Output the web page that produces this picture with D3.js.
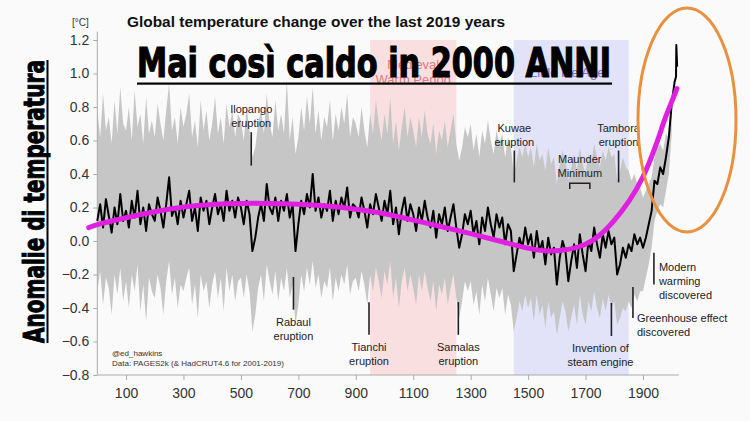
<!DOCTYPE html>
<html><head><meta charset="utf-8">
<script src="https://cdn.jsdelivr.net/npm/d3@7"></script>
<style>
body{margin:0;background:#fafafa;}
svg{display:block;font-family:"Liberation Sans",Arial,Helvetica,sans-serif;}
</style>
</head><body>
<svg id="chart" width="750" height="421"></svg>
<script>
// ---------------- DATA ----------------
const bandYears = d3.range(0, 2001, 10);
const bandUpper = [
 0.78,0.62,0.88,0.66,0.74,0.58,0.84,0.64,0.92,0.70,
 0.66,0.80,0.60,0.90,0.68,0.76,0.58,0.86,0.64,0.72,
 0.62,0.82,0.70,0.60,0.78,0.94,0.66,0.74,0.58,0.80,
 0.68,0.76,0.88,0.62,0.72,0.56,0.84,0.66,0.78,0.60,
 0.70,0.86,0.64,0.74,0.58,0.82,0.68,0.78,0.62,0.76,
 0.72,0.60,0.80,0.66,0.50,0.56,0.70,0.78,0.64,0.88,
 0.70,0.62,0.84,0.66,0.76,0.64,0.96,0.60,0.74,0.52,
 0.62,0.80,0.66,0.86,0.70,0.92,0.64,0.78,0.60,0.74,
 0.68,0.84,0.60,0.76,0.66,0.80,0.70,0.88,0.62,0.74,
 0.70,0.62,0.80,0.66,0.56,0.76,0.64,0.84,0.70,0.60,
 0.76,0.64,0.86,0.58,0.72,0.54,0.68,0.80,0.62,0.74,
 0.66,0.56,0.74,0.62,0.78,0.64,0.58,0.70,0.52,0.66,
 0.60,0.72,0.56,0.66,0.76,0.58,0.48,0.56,0.68,0.62,
 0.70,0.54,0.64,0.50,0.66,0.58,0.72,0.60,0.52,0.66,
 0.58,0.64,0.50,0.62,0.56,0.40,0.48,0.56,0.50,0.58,
 0.50,0.56,0.44,0.58,0.48,0.52,0.42,0.56,0.46,0.50,
 0.34,0.46,0.54,0.48,0.36,0.44,0.52,0.42,0.56,0.46,
 0.40,0.52,0.46,0.58,0.50,0.44,0.54,0.48,0.56,0.50,
 0.52,0.36,0.42,0.50,0.44,0.42,0.36,0.40,0.34,0.32,
 0.26,0.30,0.34,0.38,0.50,0.56,0.58,0.54,0.64,0.62,
 0.90];
const bandLower = [
 -0.30,-0.18,-0.38,-0.22,-0.28,-0.44,-0.20,-0.32,-0.16,-0.36,
 -0.24,-0.40,-0.20,-0.30,-0.14,-0.42,-0.26,-0.48,-0.22,-0.30,
 -0.34,-0.20,-0.28,-0.44,-0.24,-0.12,-0.32,-0.22,-0.40,-0.26,
 -0.30,-0.22,-0.16,-0.38,-0.26,-0.46,-0.20,-0.30,-0.24,-0.40,
 -0.26,-0.18,-0.34,-0.22,-0.42,-0.16,-0.30,-0.20,-0.36,-0.24,
 -0.22,-0.34,-0.20,-0.30,-0.54,-0.44,-0.28,-0.20,-0.36,-0.14,
 -0.24,-0.32,-0.18,-0.36,-0.22,-0.30,-0.16,-0.34,-0.26,-0.50,
 -0.38,-0.20,-0.30,-0.16,-0.26,-0.12,-0.28,-0.20,-0.34,-0.24,
 -0.28,-0.16,-0.36,-0.22,-0.30,-0.20,-0.26,-0.14,-0.32,-0.24,
 -0.22,-0.30,-0.18,-0.26,-0.38,-0.20,-0.30,-0.16,-0.24,-0.34,
 -0.18,-0.26,-0.12,-0.34,-0.22,-0.40,-0.24,-0.16,-0.30,-0.20,
 -0.28,-0.38,-0.20,-0.30,-0.18,-0.28,-0.36,-0.24,-0.42,-0.26,
 -0.32,-0.22,-0.38,-0.28,-0.20,-0.34,-0.46,-0.36,-0.24,-0.30,
 -0.24,-0.38,-0.30,-0.44,-0.26,-0.36,-0.22,-0.32,-0.42,-0.28,
 -0.34,-0.28,-0.44,-0.32,-0.38,-0.54,-0.46,-0.36,-0.42,-0.32,
 -0.40,-0.34,-0.48,-0.32,-0.44,-0.38,-0.52,-0.36,-0.46,-0.42,
 -0.56,-0.46,-0.36,-0.42,-0.54,-0.46,-0.38,-0.50,-0.32,-0.44,
 -0.50,-0.36,-0.42,-0.30,-0.40,-0.46,-0.34,-0.42,-0.32,-0.40,
 -0.36,-0.50,-0.46,-0.40,-0.42,-0.36,-0.40,-0.32,-0.36,-0.30,
 -0.30,-0.22,-0.14,-0.04,0.12,0.18,0.22,0.20,0.30,0.40,
 0.64];
const medianYears = d3.range(0, 2011, 10).concat([2015, 2016, 2019]);
const medianValues = [
 0.12,0.22,0.08,0.25,0.15,0.05,0.20,0.10,0.28,0.12,
 0.18,0.08,0.24,0.14,0.30,0.10,0.20,0.06,0.22,0.16,
 0.12,0.26,0.18,0.08,0.22,0.38,0.15,0.20,0.10,0.24,
 0.14,0.22,0.30,0.12,0.20,0.06,0.26,0.18,0.24,0.10,
 0.20,0.28,0.16,0.22,0.12,0.30,0.18,0.24,0.14,0.26,
 0.20,0.10,0.24,0.16,-0.06,0.02,0.14,0.22,0.12,0.34,
 0.20,0.16,0.26,0.12,0.24,0.18,0.28,0.14,0.22,-0.06,
 0.10,0.24,0.16,0.28,0.20,0.40,0.18,0.26,0.14,0.22,
 0.18,0.30,0.12,0.24,0.16,0.26,0.20,0.32,0.14,0.22,
 0.20,0.14,0.26,0.18,0.08,0.22,0.16,0.28,0.20,0.12,
 0.24,0.16,0.30,0.10,0.20,0.04,0.18,0.26,0.12,0.22,
 0.16,0.06,0.20,0.12,0.24,0.14,0.08,0.18,0.02,0.16,
 0.10,0.20,0.06,0.14,0.22,0.08,-0.04,0.04,0.16,0.10,
 0.18,0.04,0.12,-0.02,0.14,0.06,0.20,0.10,0.02,0.16,
 0.08,0.14,-0.02,0.10,0.06,-0.18,-0.08,0.02,-0.04,0.08,
 -0.02,0.04,-0.10,0.06,-0.06,0.00,-0.14,0.02,-0.08,-0.04,
 -0.26,-0.10,0.00,-0.06,-0.24,-0.12,-0.02,-0.16,0.04,-0.08,
 -0.18,0.00,-0.06,0.08,-0.02,-0.10,0.04,-0.04,0.06,-0.02,
 0.02,-0.20,-0.14,-0.04,-0.10,-0.02,-0.06,0.04,-0.02,0.02,
 -0.04,0.02,0.10,0.18,0.36,0.34,0.44,0.40,0.50,0.62,
 0.82,0.95,0.98,1.17,1.04];
const trendYears  = [-30, 0, 100, 200, 300, 400, 500, 600, 700, 800, 900, 1000, 1100, 1200, 1300, 1400, 1500, 1570, 1650, 1700, 1750, 1800, 1850, 1900, 1950, 1975, 2000, 2018];
const trendValues = [0.08, 0.10, 0.14, 0.175, 0.205, 0.22, 0.225, 0.225, 0.22, 0.21, 0.19, 0.165, 0.125, 0.085, 0.045, 0.0, -0.045, -0.065, -0.05, -0.025, 0.03, 0.12, 0.23, 0.37, 0.59, 0.73, 0.83, 0.91];
const yTicks = [-0.8, -0.6, -0.4, -0.2, 0.0, 0.2, 0.4, 0.6, 0.8, 1.0, 1.2];
const xTicks = [100, 300, 500, 700, 900, 1100, 1300, 1500, 1700, 1900];
const periodNames  = [["Medieval", "Warm Period"], ["Little Ice Age"]];
const periodStarts = [950, 1450];
const periodEnds   = [1250, 1850];
// events: label lines, year, line extent (°C), text placement
const eventLabels = [["Ilopango","eruption"],["Rabaul","eruption"],["Tianchi","eruption"],["Samalas","eruption"],["Kuwae","eruption"],["Tambora","eruption"],["Invention of","steam engine"],["Greenhouse effect","discovered"],["Modern","warming","discovered"]];
const eventYears  = [536, 683, 946, 1257, 1452, 1815, 1790, 1865, 1938];
const eventTop    = [0.65, -0.215, -0.365, -0.365, 0.54, 0.54, -0.37, -0.275, -0.07];
const eventBottom = [0.45, -0.41, -0.56, -0.56, 0.35, 0.35, -0.567, -0.46, -0.26];
const eventPlace  = ["above","below","below","below","above","above","below","right-low","right"];
const maunderStart = 1645, maunderEnd = 1715;

// ---------------- SETUP ----------------
const svg = d3.select("#chart");
const W = 750, H = 421;
svg.append("rect").attr("width", W).attr("height", H).attr("fill", "#fafafa");

const x = d3.scaleLinear().domain([0, 2025]).range([97.3, 678.9]);
const y = d3.scaleLinear().domain([-0.8, 1.2]).range([375, 40]);

// shaded periods
periodNames.forEach((n, i) => {
  svg.append("rect")
    .attr("x", x(periodStarts[i])).attr("y", y(1.2))
    .attr("width", x(periodEnds[i]) - x(periodStarts[i]))
    .attr("height", y(-0.8) - y(1.2))
    .attr("fill", i === 0 ? "#f9dfdf" : "#e2e2f8");
  const cx = (x(periodStarts[i]) + x(periodEnds[i])) / 2;
  const t = svg.append("text").attr("text-anchor", "middle")
    .attr("font-size", 13)
    .attr("fill", i === 0 ? "#e07a7a" : "#7070d0");
  n.forEach((line, j) => {
    t.append("tspan").attr("x", i === 0 ? cx : cx - 4)
      .attr("y", (i === 0 ? 69 : 77) + j * 15).text(line);
  });
});

// grey ensemble band
const bandData = bandYears.map((yr, i) => ({yr, lo: bandLower[i], hi: bandUpper[i]}));
svg.append("path").datum(bandData)
  .attr("fill", "#c6c6c6")
  .attr("d", d3.area().x(d => x(d.yr)).y0(d => y(d.lo)).y1(d => y(d.hi)));

// axes
const yAxis = d3.axisLeft(y).tickValues(yTicks).tickSize(4).tickFormat(d3.format(".1f"));
const gy = svg.append("g").attr("transform", `translate(${x(0)},0)`).call(yAxis);
gy.select(".domain").remove();
gy.append("line").attr("x1", 0).attr("x2", 0).attr("y1", y(1.25)).attr("y2", y(-0.8)).attr("stroke", "#aaa");
gy.selectAll(".tick line").attr("stroke", "#aaa");
gy.selectAll(".tick text").attr("font-size", 14).attr("fill", "#333").attr("x", -8)
  .attr("font-family", "'Liberation Sans',Arial,sans-serif");

const xAxis = d3.axisBottom(x).tickValues(xTicks).tickSize(5).tickFormat(d3.format("d"));
const gx = svg.append("g").attr("transform", `translate(0,${y(-0.8)})`).call(xAxis);
gx.select(".domain").attr("stroke", "#aaa").attr("d", `M${x(0)},0H${x(2025)}`);
gx.selectAll(".tick line").attr("stroke", "#aaa");
gx.selectAll(".tick text").attr("font-size", 14).attr("fill", "#333").attr("dy", "1.1em")
  .attr("font-family", "'Liberation Sans',Arial,sans-serif");

// median line
const medData = medianYears.map((yr, i) => ({yr, v: medianValues[i]}));
svg.append("path").datum(medData)
  .attr("fill", "none").attr("stroke", "#000").attr("stroke-width", 2).attr("stroke-linejoin", "round")
  .attr("d", d3.line().x(d => x(d.yr)).y(d => y(d.v)));

// event annotations
const ann = svg.append("g").attr("font-size", 11).attr("fill", "#222");
eventLabels.forEach((lines, i) => {
  const ex = x(eventYears[i]);
  const yt = y(eventTop[i]), yb = y(eventBottom[i]);
  ann.append("line").attr("x1", ex).attr("x2", ex).attr("y1", yt).attr("y2", yb)
    .attr("stroke", "#222").attr("stroke-width", 1.6);
  const place = eventPlace[i];
  const t = ann.append("text");
  if (place === "above") {
    t.attr("text-anchor", "middle");
    lines.forEach((l, j) => t.append("tspan").attr("x", ex).attr("y", yt - 5 - (lines.length - 1 - j) * 14).text(l));
  } else if (place === "below") {
    t.attr("text-anchor", "middle");
    const tx = eventLabels[i][0] === "Invention of" ? ex - 11 : ex;
    lines.forEach((l, j) => t.append("tspan").attr("x", tx).attr("y", yb + 16 + j * 14).text(l));
  } else if (place === "right-low") {
    t.attr("text-anchor", "start");
    lines.forEach((l, j) => t.append("tspan").attr("x", ex + 4).attr("y", yb + 4 + j * 14).text(l));
  } else {
    t.attr("text-anchor", "start");
    lines.forEach((l, j) => t.append("tspan").attr("x", ex + 5).attr("y", yt + 18 + j * 14).text(l));
  }
});
// Maunder minimum bracket
const mx0 = x(maunderStart), mx1 = x(maunderEnd);
ann.append("path").attr("fill", "none").attr("stroke", "#222").attr("stroke-width", 1.5)
  .attr("d", `M${mx0},${y(0.31)}V${y(0.345)}H${mx1}V${y(0.31)}`);
const mt = ann.append("text").attr("text-anchor", "middle");
mt.append("tspan").attr("x", (mx0 + mx1) / 2).attr("y", 163).text("Maunder");
mt.append("tspan").attr("x", (mx0 + mx1) / 2).attr("y", 177).text("Minimum");

// trend (magenta)
const trendData = trendYears.map((yr, i) => ({yr, v: trendValues[i]}));
svg.append("path").datum(trendData)
  .attr("fill", "none").attr("stroke", "#e020e0").attr("stroke-width", 5).attr("stroke-linecap", "round")
  .attr("d", d3.line().curve(d3.curveBasis).x(d => x(d.yr)).y(d => y(d.v)));

// credits
svg.append("text").attr("x", 112).attr("y", 356).attr("font-size", 8).attr("fill", "#333").text("@ed_hawkins");
svg.append("text").attr("x", 112).attr("y", 366).attr("font-size", 8).attr("fill", "#333").text("Data: PAGES2k (& HadCRUT4.6 for 2001-2019)");

// unit label
svg.append("text").attr("x", 72).attr("y", 26).attr("font-size", 10).attr("fill", "#333").text("[°C]");

// chart title
svg.append("text").attr("x", 127).attr("y", 27).attr("font-size", 15).attr("font-weight", "bold")
  .attr("fill", "#111").attr("textLength", 378).attr("lengthAdjust", "spacingAndGlyphs")
  .text("Global temperature change over the last 2019 years");

// big overlay headline
svg.append("text").attr("x", 137).attr("y", 77)
  .attr("font-family", "'Liberation Sans Narrow','DejaVu Sans Condensed','Liberation Sans',sans-serif")
  .attr("font-weight", "bold").attr("font-size", 41).attr("fill", "#000")
  .attr("stroke", "#000").attr("stroke-width", 1.2)
  .attr("textLength", 474).attr("lengthAdjust", "spacingAndGlyphs")
  .text("Mai così caldo in 2000 ANNI");
svg.append("rect").attr("x", 137).attr("y", 82.5).attr("width", 475).attr("height", 2.2).attr("fill", "#000");

// vertical axis headline
svg.append("text").attr("transform", "translate(44,201.5) rotate(-90)")
  .attr("text-anchor", "middle")
  .attr("font-family", "'Liberation Sans Narrow','DejaVu Sans Condensed','Liberation Sans',sans-serif")
  .attr("font-weight", "bold").attr("font-size", 29).attr("fill", "#000")
  .attr("stroke", "#000").attr("stroke-width", 1)
  .attr("textLength", 283).attr("lengthAdjust", "spacingAndGlyphs")
  .text("Anomalie di temperatura");
svg.append("rect").attr("x", 46.5).attr("y", 60).attr("width", 2).attr("height", 283).attr("fill", "#000");

// orange ellipse highlight
svg.append("ellipse").attr("cx", 687).attr("cy", 120).attr("rx", 49).attr("ry", 112)
  .attr("fill", "none").attr("stroke", "#e8913f").attr("stroke-width", 3);
</script>
</body></html>
